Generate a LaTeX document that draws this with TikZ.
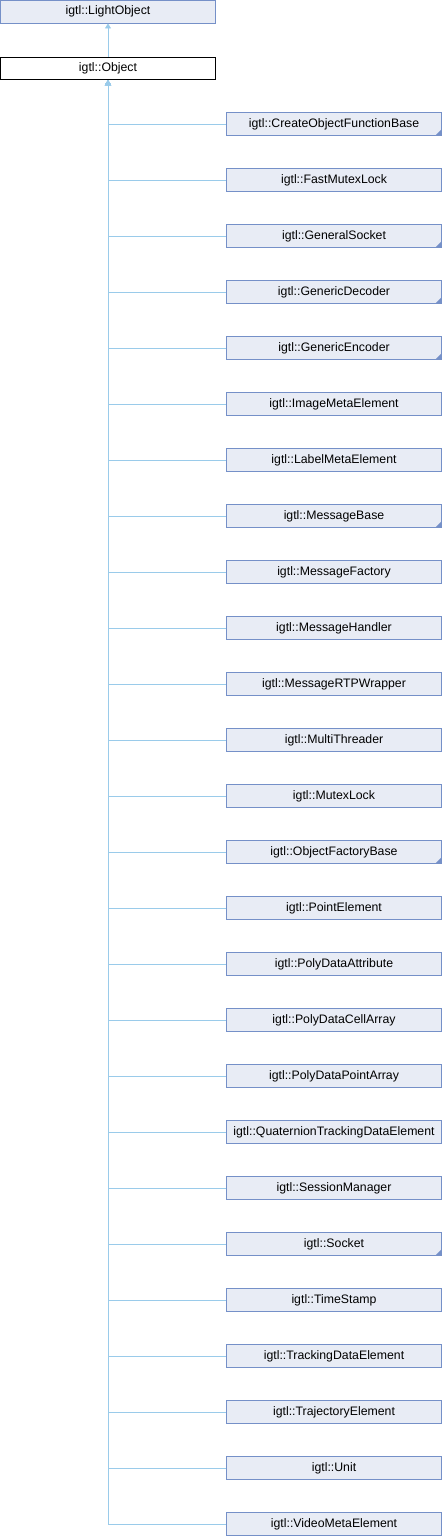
\documentclass[tikz,border=0pt]{standalone}
\usepackage{fontspec}
\setmainfont{Liberation Sans}
\usetikzlibrary{arrows.meta}
\definecolor{boxfill}{HTML}{E8ECF5}
\definecolor{boxline}{HTML}{7590C8}
\definecolor{edgecol}{HTML}{9ACBEA}
\begin{document}
\begin{tikzpicture}[x=1pt,y=-1pt,
  cls/.style={draw=boxline, fill=boxfill, line width=0.9pt, minimum width=215pt, minimum height=22.5pt, inner sep=0pt, font=\fontsize{12.3}{14}\selectfont},
  cur/.style={draw=black, fill=white, line width=0.9pt, minimum width=215pt, minimum height=22.5pt, inner sep=0pt, font=\fontsize{12.3}{14}\selectfont},
  tmpl/.style={path picture={\fill[boxline] (path picture bounding box.south east) -- ++(-6,0) -- ++(6,-6) -- cycle;}},
  inh/.style={draw=edgecol, line width=0.8pt, -{Triangle[length=5pt,width=6pt]}}]
\useasboundingbox (0,0) rectangle (442,1536);
\node[cls] (light) at (108,11.75) {igtl::LightObject};
\node[cur] (obj) at (108,68.5) {igtl::Object};
\draw[inh] (obj.north) -- (light.south);
\foreach \name/\lab/\t [count=\i from 0] in {
  c0/CreateObjectFunctionBase/1, c1/FastMutexLock/0, c2/GeneralSocket/1, c3/GenericDecoder/1,
  c4/GenericEncoder/1, c5/ImageMetaElement/0, c6/LabelMetaElement/0, c7/MessageBase/1,
  c8/MessageFactory/0, c9/MessageHandler/0, c10/MessageRTPWrapper/0, c11/MultiThreader/0,
  c12/MutexLock/0, c13/ObjectFactoryBase/1, c14/PointElement/0, c15/PolyDataAttribute/0,
  c16/PolyDataCellArray/0, c17/PolyDataPointArray/0, c18/QuaternionTrackingDataElement/0,
  c19/SessionManager/0, c20/Socket/1, c21/TimeStamp/0, c22/TrackingDataElement/0,
  c23/TrajectoryElement/0, c24/Unit/0, c25/VideoMetaElement/0} {
  \ifnum\t=1
    \node[cls,tmpl] (\name) at (334,124+56*\i) {igtl::\lab};
  \else
    \node[cls] (\name) at (334,124+56*\i) {igtl::\lab};
  \fi
  \draw[inh] (\name.west) -| (obj.south);
}
\end{tikzpicture}
\end{document}
